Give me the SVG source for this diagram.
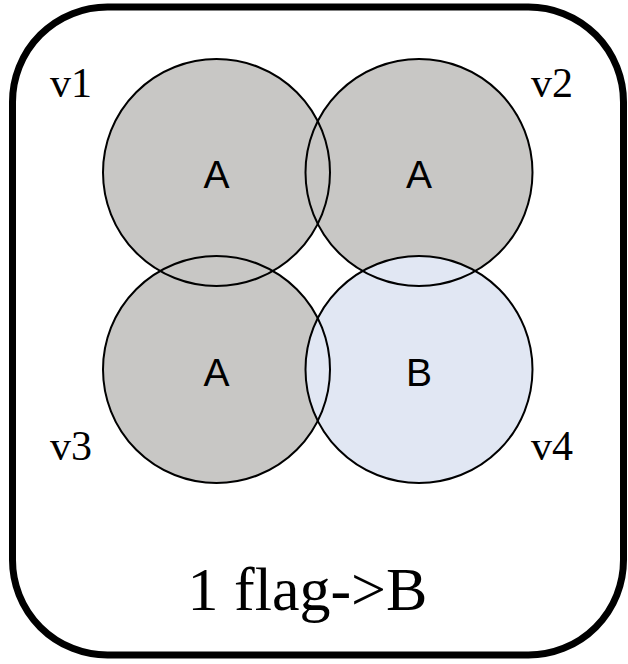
<svg xmlns="http://www.w3.org/2000/svg" xmlns:xlink="http://www.w3.org/1999/xlink" width="628" height="664" viewBox="0 0 628 664">
<style>
.frame{fill:#fff;stroke:#000;stroke-width:7}
.ga{fill:#c8c7c5}
.gb{fill:#e1e7f3}
.ol{fill:none;stroke:#000;stroke-width:2}
.v{font-family:"Liberation Serif","Times New Roman",serif;font-size:42px;fill:#000}
.lbl{font-family:"Liberation Sans",Arial,sans-serif;font-size:39px;fill:#000;text-anchor:middle}
.cap{font-family:"Liberation Serif","Times New Roman",serif;font-size:62px;fill:#000;text-anchor:middle}
</style>
<defs>
<circle id="c1" cx="216.5" cy="172.5" r="113.5"/>
<circle id="c2" cx="419" cy="172.5" r="113.5"/>
<circle id="c3" cx="216.5" cy="369.5" r="113.5"/>
<circle id="c4" cx="419" cy="369.5" r="113.5"/>
</defs>
<rect class="frame" x="12.5" y="7" width="611" height="648" rx="95" ry="95"/>
<g id="fills">
<use xlink:href="#c1" class="ga"/>
<use xlink:href="#c2" class="ga"/>
<use xlink:href="#c3" class="ga"/>
<use xlink:href="#c4" class="gb"/>
</g>
<g id="v1">
<use xlink:href="#c1" class="ol"/>
<text class="lbl" x="216.5" y="188">A</text>
<text class="v" x="50" y="97">v1</text>
</g>
<g id="v2">
<use xlink:href="#c2" class="ol"/>
<text class="lbl" x="419" y="188">A</text>
<text class="v" x="531" y="97">v2</text>
</g>
<g id="v3">
<use xlink:href="#c3" class="ol"/>
<text class="lbl" x="216.5" y="386">A</text>
<text class="v" x="50" y="460">v3</text>
</g>
<g id="v4">
<use xlink:href="#c4" class="ol"/>
<text class="lbl" x="419" y="386">B</text>
<text class="v" x="531" y="460">v4</text>
</g>
<text class="cap" x="307.5" y="610">1 flag-&gt;B</text>
</svg>
